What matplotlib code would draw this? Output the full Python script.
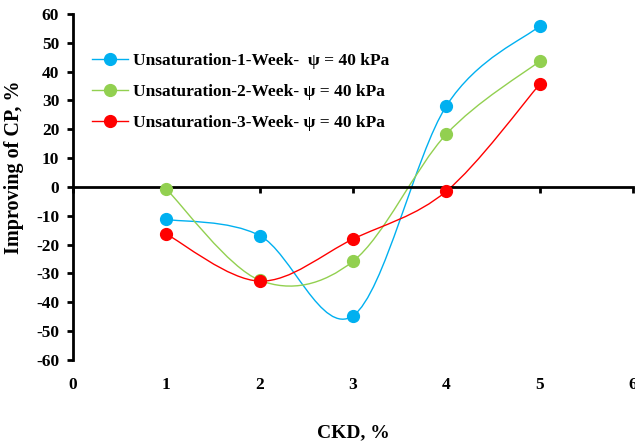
import matplotlib.pyplot as plt
from matplotlib.path import Path
from matplotlib.patches import PathPatch
from matplotlib.lines import Line2D
import numpy as np

plt.rcParams['font.family'] = ['Liberation Serif', 'DejaVu Serif']
plt.rcParams['font.weight'] = 'bold'
plt.rcParams['axes.unicode_minus'] = False

ckd = [1, 2, 3, 4, 5]
week1 = [-11.3, -16.9, -44.7, 28.1, 55.8]
week2 = [-0.8, -32.4, -25.8, 18.3, 43.6]
week3 = [-16.4, -32.7, -18.1, -1.5, 35.6]

labels = ['Unsaturation-1-Week-  \u03c8 = 40 kPa',
          'Unsaturation-2-Week- \u03c8 = 40 kPa',
          'Unsaturation-3-Week- \u03c8 = 40 kPa']
colors = ['#00B0F0', '#92D050', '#FF0000']


def smooth_path(xs, ys):
    # excel-like smoothed line: catmull-rom as cubic beziers
    pts = np.column_stack([xs, ys]).astype(float)
    n = len(pts)
    verts = [pts[0]]
    codes = [Path.MOVETO]
    for i in range(n - 1):
        p0 = pts[i - 1] if i > 0 else pts[i]
        p1 = pts[i]
        p2 = pts[i + 1]
        p3 = pts[i + 2] if i + 2 < n else pts[i + 1]
        c1 = p1 + (p2 - p0) / 6
        c2 = p2 - (p3 - p1) / 6
        verts += [c1, c2, p2]
        codes += [Path.CURVE4] * 3
    return Path(verts, codes)


fig = plt.figure(figsize=(6.35, 4.47), dpi=100)
ax = fig.add_axes([0.115, 0.195, 0.882, 0.774])

handles = []
for ys, c, lab in zip([week1, week2, week3], colors, labels):
    ax.add_patch(PathPatch(smooth_path(ckd, ys), fill=False, edgecolor=c, lw=1.0))
    ax.plot(ckd, ys, 'o', color=c, ms=8.5, zorder=3)
    handles.append(Line2D([], [], color=c, lw=1.0, marker='o', ms=8.5, label=lab))

ax.set_xlim(0, 6)
ax.set_ylim(-60, 60)
ax.set_yticks(np.arange(-60, 61, 10))
ax.set_xticks(np.arange(0, 7, 1))

ax.spines['top'].set_visible(False)
ax.spines['right'].set_visible(False)
ax.spines['bottom'].set_position(('data', 0))
ax.spines['left'].set_linewidth(2)
ax.spines['bottom'].set_linewidth(2)
ax.tick_params(axis='x', direction='out', length=4, width=2, labelbottom=False)
ax.tick_params(axis='y', direction='out', length=4, width=2, labelsize=12.5, pad=6)

sec = ax.secondary_xaxis('bottom')
sec.spines['bottom'].set_visible(False)
sec.set_xticks(np.arange(0, 7, 1))
sec.tick_params(length=0, labelsize=12.5, pad=12)
sec.set_xlabel('CKD, %', fontsize=14, fontweight='bold', labelpad=23)

ax.set_ylabel('Improving of CP, %', fontsize=14.5, fontweight='bold')
ax.yaxis.set_label_coords(-0.088, 0.558)

ax.legend(handles=handles, loc='upper left', bbox_to_anchor=(0.018, 0.913),
          frameon=False, labelspacing=0.85, handlelength=2.1, borderpad=0,
          handletextpad=0.3, prop={'weight': 'bold', 'size': 12.5})

fig.savefig('out.png', dpi=100)
